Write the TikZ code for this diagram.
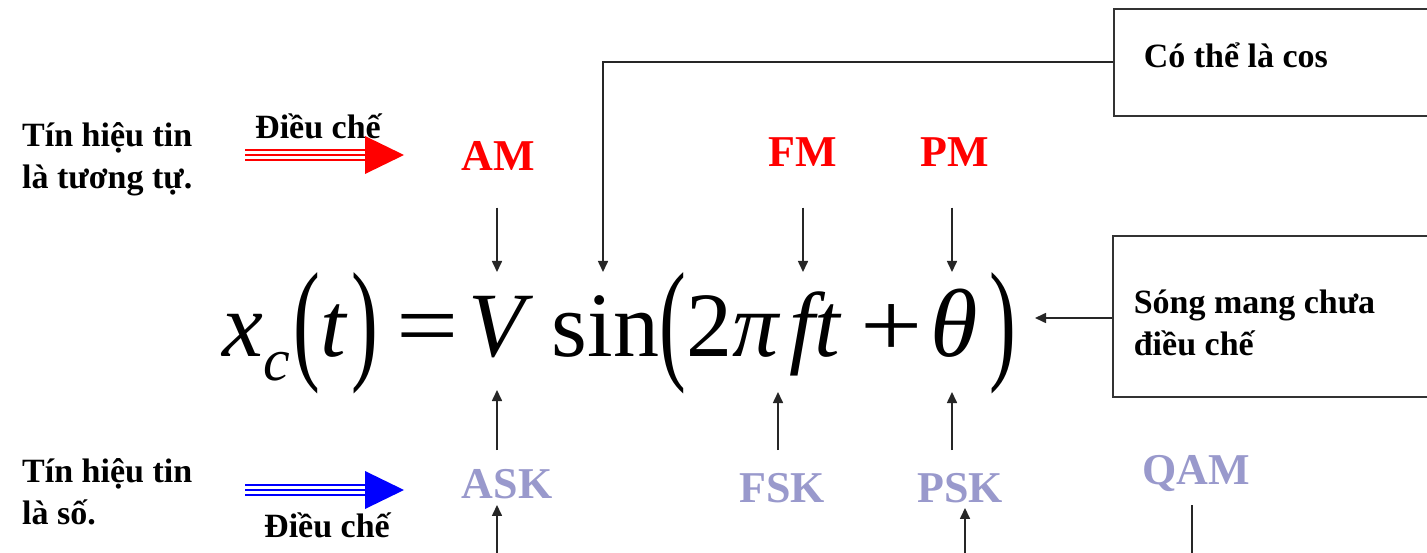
\documentclass[tikz,border=0pt]{standalone}
\usepackage{fontspec}
\setmainfont{Liberation Serif}
\usepackage{graphicx}
\usetikzlibrary{arrows.meta}
\definecolor{keylav}{RGB}{153,153,204}
\newcommand{\tallp}[1]{\raisebox{-9pt}{\scalebox{0.6}[1]{\fontsize{134}{134}\selectfont #1}}}
\newcommand{\wideop}[1]{\scalebox{1.2}[1]{#1}}

\begin{document}
\begin{tikzpicture}[x=1pt, y=-1pt,
	every node/.style={font=\bfseries\fontsize{34}{42}\selectfont, inner sep=0pt},
	>={Triangle[length=11pt,width=10pt]},
	ana/.style={text=red, font=\bfseries\fontsize{44}{44}\selectfont},
	dig/.style={text=keylav, font=\bfseries\fontsize{44}{44}\selectfont},
	cbox/.style={draw=black!80, line width=1.6pt, anchor=north west, align=flush left},
	ar/.style={->, draw=black!85, line width=1.6pt},
	trio/.style={draw=#1, line width=12pt, postaction={draw=white, line width=8pt}, postaction={draw=#1, line width=2pt}}]
	\useasboundingbox[fill=white] (0,0) rectangle (1427,553);

	\node[align=flush left, anchor=west] (analog) at (22,159) {Tín hiệu tin\\là tương tự.};
	\node[align=flush left, anchor=west] (digital) at (22,492) {Tín hiệu tin\\là số.};
	\node (modA) at (318,126) {Điều chế};
	\node (modD) at (327,525) {Điều chế};

	\node[ana] (AM) at (498,156) {AM};
	\node[ana] (FM) at (803,152) {FM};
	\node[ana] (PM) at (955,152) {PM};
	\node[dig] (ASK) at (507,484) {ASK};
	\node[dig] (FSK) at (782,488) {FSK};
	\node[dig] (PSK) at (960,488) {PSK};
	\node[dig] (QAM) at (1196,473) {QAM};

	\node[anchor=base west, font=\fontsize{92}{92}\selectfont] (eq) at (222,356)
		{\textit{x}\raisebox{-24pt}{\fontsize{60}{60}\selectfont\textit{c}}\kern4pt\tallp{(}\textit{t}\kern4pt\tallp{)}\kern18pt\wideop{=}\kern10pt\textit{V}\kern18pt sin\tallp{(}2\textit{π}\kern9pt\textit{ft}\kern18pt\wideop{+}\kern8pt\scalebox{1.05}{\textit{θ}}\kern12pt\tallp{)}};

	\node[cbox, minimum width=340pt, minimum height=107pt, text width=280pt, inner xsep=30pt, text depth=14pt] (cos) at (1113,8) {Có thể là cos};
	\node[cbox, minimum width=340pt, minimum height=161pt, text width=300pt, inner xsep=21pt] (carrier) at (1112,235) {\rule{0pt}{36pt}Sóng mang chưa\\điều chế};

	\coordinate (vA) at (497,272);
	\coordinate (vS) at (603,272);
	\coordinate (vF) at (803,272);
	\coordinate (vP) at (952,272);
	\coordinate (uA) at (497,390);
	\coordinate (uF) at (778,392);
	\coordinate (uP) at (952,392);
	\coordinate (eqEnd) at (1035,318);
	\coordinate (bA) at (497,560);
	\coordinate (bP) at (965,560);
	\coordinate (bQ) at (1192,560);

	\coordinate (redL) at (245,155);
	\coordinate (redR) at (404,155);
	\coordinate (blueL) at (245,490);
	\coordinate (blueR) at (404,490);
	\draw[trio=red] (redL) -- ([xshift=-38pt]redR);
	\fill[red] (redR) -- ++(-39,-19) -- ++(0,38) -- cycle;
	\draw[trio=blue] (blueL) -- ([xshift=-38pt]blueR);
	\fill[blue] (blueR) -- ++(-39,-19) -- ++(0,38) -- cycle;

	\draw[ar, shorten <=37pt] (AM.south -| vA) -- (vA);
	\draw[ar, shorten <=41pt] (FM.south -| vF) -- (vF);
	\draw[ar, shorten <=41pt] (PM.south -| vP) -- (vP);
	\draw[ar] (cos.west) -| (vS);
	\draw[ar] (carrier.west |- eqEnd) -- (eqEnd);

	\draw[ar, shorten <=19pt] (ASK.north -| uA) -- (uA);
	\draw[ar, shorten <=23pt] (FSK.north -| uF) -- (uF);
	\draw[ar, shorten <=23pt] (PSK.north -| uP) -- (uP);
	\draw[ar, shorten >=6pt] (bA) -- (ASK.south -| bA);
	\draw[ar, shorten >=5pt] (bP) -- (PSK.south -| bP);
	\draw[draw=black!85, line width=1.6pt, shorten <=14pt] (QAM.south -| bQ) -- (bQ);
\end{tikzpicture}
\end{document}
